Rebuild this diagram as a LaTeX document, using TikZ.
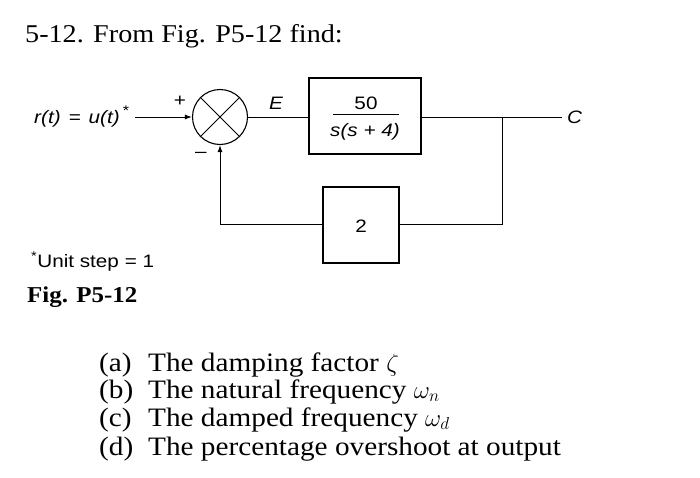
\documentclass[tikz,border=0pt]{standalone}
\usepackage{fontspec}
\setmainfont{Liberation Serif}
\setsansfont{Liberation Sans}
\newfontfamily\wideserif[FakeStretch=1.1]{Liberation Serif}
\newfontfamily\widesans[FakeStretch=1.15]{Liberation Sans}
\usetikzlibrary{arrows.meta}
\begin{document}
\begin{tikzpicture}[x=1pt,y=-1pt,
  wire/.style={line width=1pt},
  blk/.style={draw, line width=1.1pt, inner sep=0pt},
  lab/.style={font=\widesans\fontsize{18}{20}\selectfont, inner sep=0pt},
  ilab/.style={font=\widesans\itshape\fontsize{18}{20}\selectfont, inner sep=0pt},
  ser/.style={font=\wideserif\fontsize{26.6}{29}\selectfont, inner sep=0pt, anchor=base west},
  arr/.style={-{Latex[length=7pt,width=5pt]}}]
\useasboundingbox (0,0) rectangle (700,477);
\fill[white] (0,0) rectangle (700,477);

% title
\node[ser, font=\wideserif\fontsize{25.6}{28}\selectfont] (title) at (25,42) {5-12. From Fig. P5-12 find:};

% blocks
\node[draw, circle, minimum size=55pt, line width=1.1pt, inner sep=0pt] (sum) at (220,117) {};
\draw[wire] (sum.north west) -- (sum.south east);
\draw[wire] (sum.north east) -- (sum.south west);
\node[blk, minimum width=112pt, minimum height=76pt] (g) at (365,116) {};
\node[blk, minimum width=76pt, minimum height=76pt] (h) at (361,225) {};

% contents
\node[lab] (num) at (366,103) {50};
\coordinate (fl) at (333,114);
\coordinate (fr) at (399,114);
\draw[line width=0.9pt] (fl) -- (fr);
\node[ilab] (den) at (365,132) {s(s + 4)};
\node[lab] (two) at (361,226) {2};

% connector points
\coordinate (in) at (135,117);
\coordinate (br) at (502,117);
\coordinate (out) at (562,117);
\coordinate (bb) at (502,224);
\coordinate (lb) at (220,224);

\draw[wire, arr] (in) -- (sum.west);
\draw[wire] (sum.east) -- (g.west |- sum.east);
\draw[wire] (g.east |- br) -- (out);
\draw[wire] (br) -- (bb) -- (h.east |- bb);
\draw[wire, arr] (h.west |- lb) -- (lb) -- (sum.south);

% labels
\node[ilab, anchor=east] (rlab) at (120,119) {r(t)\;\,=\;\,u(t)};
\node[lab, font=\widesans\fontsize{14}{16}\selectfont] (star) at (126,111) {*};
\node[lab] (plus) at (180,101) {+};
\node[lab] (minus) at (201,155) {\textendash};
\node[ilab] (E) at (276,103) {E};
\node[ilab, anchor=west] (C) at (567,117) {C};

% notes
\node[lab, anchor=base west] (note) at (31,267) {\textsuperscript{*}Unit step = 1};
\node[ser, font=\wideserif\bfseries\fontsize{22.7}{25}\selectfont] (fig) at (27,302) {Fig. P5-12};

% list
\node[ser] (la) at (99,371) {(a)};
\node[ser] (ta) at (148,371) {The damping factor $\zeta$};
\node[ser] (lbb) at (99,398) {(b)};
\node[ser] (tb) at (148,398) {The natural frequency $\omega_n$};
\node[ser] (lc) at (99,426) {(c)};
\node[ser] (tc) at (148,426) {The damped frequency $\omega_d$};
\node[ser] (ld) at (99,455) {(d)};
\node[ser] (td) at (148,455) {The percentage overshoot at output};
\end{tikzpicture}
\end{document}
